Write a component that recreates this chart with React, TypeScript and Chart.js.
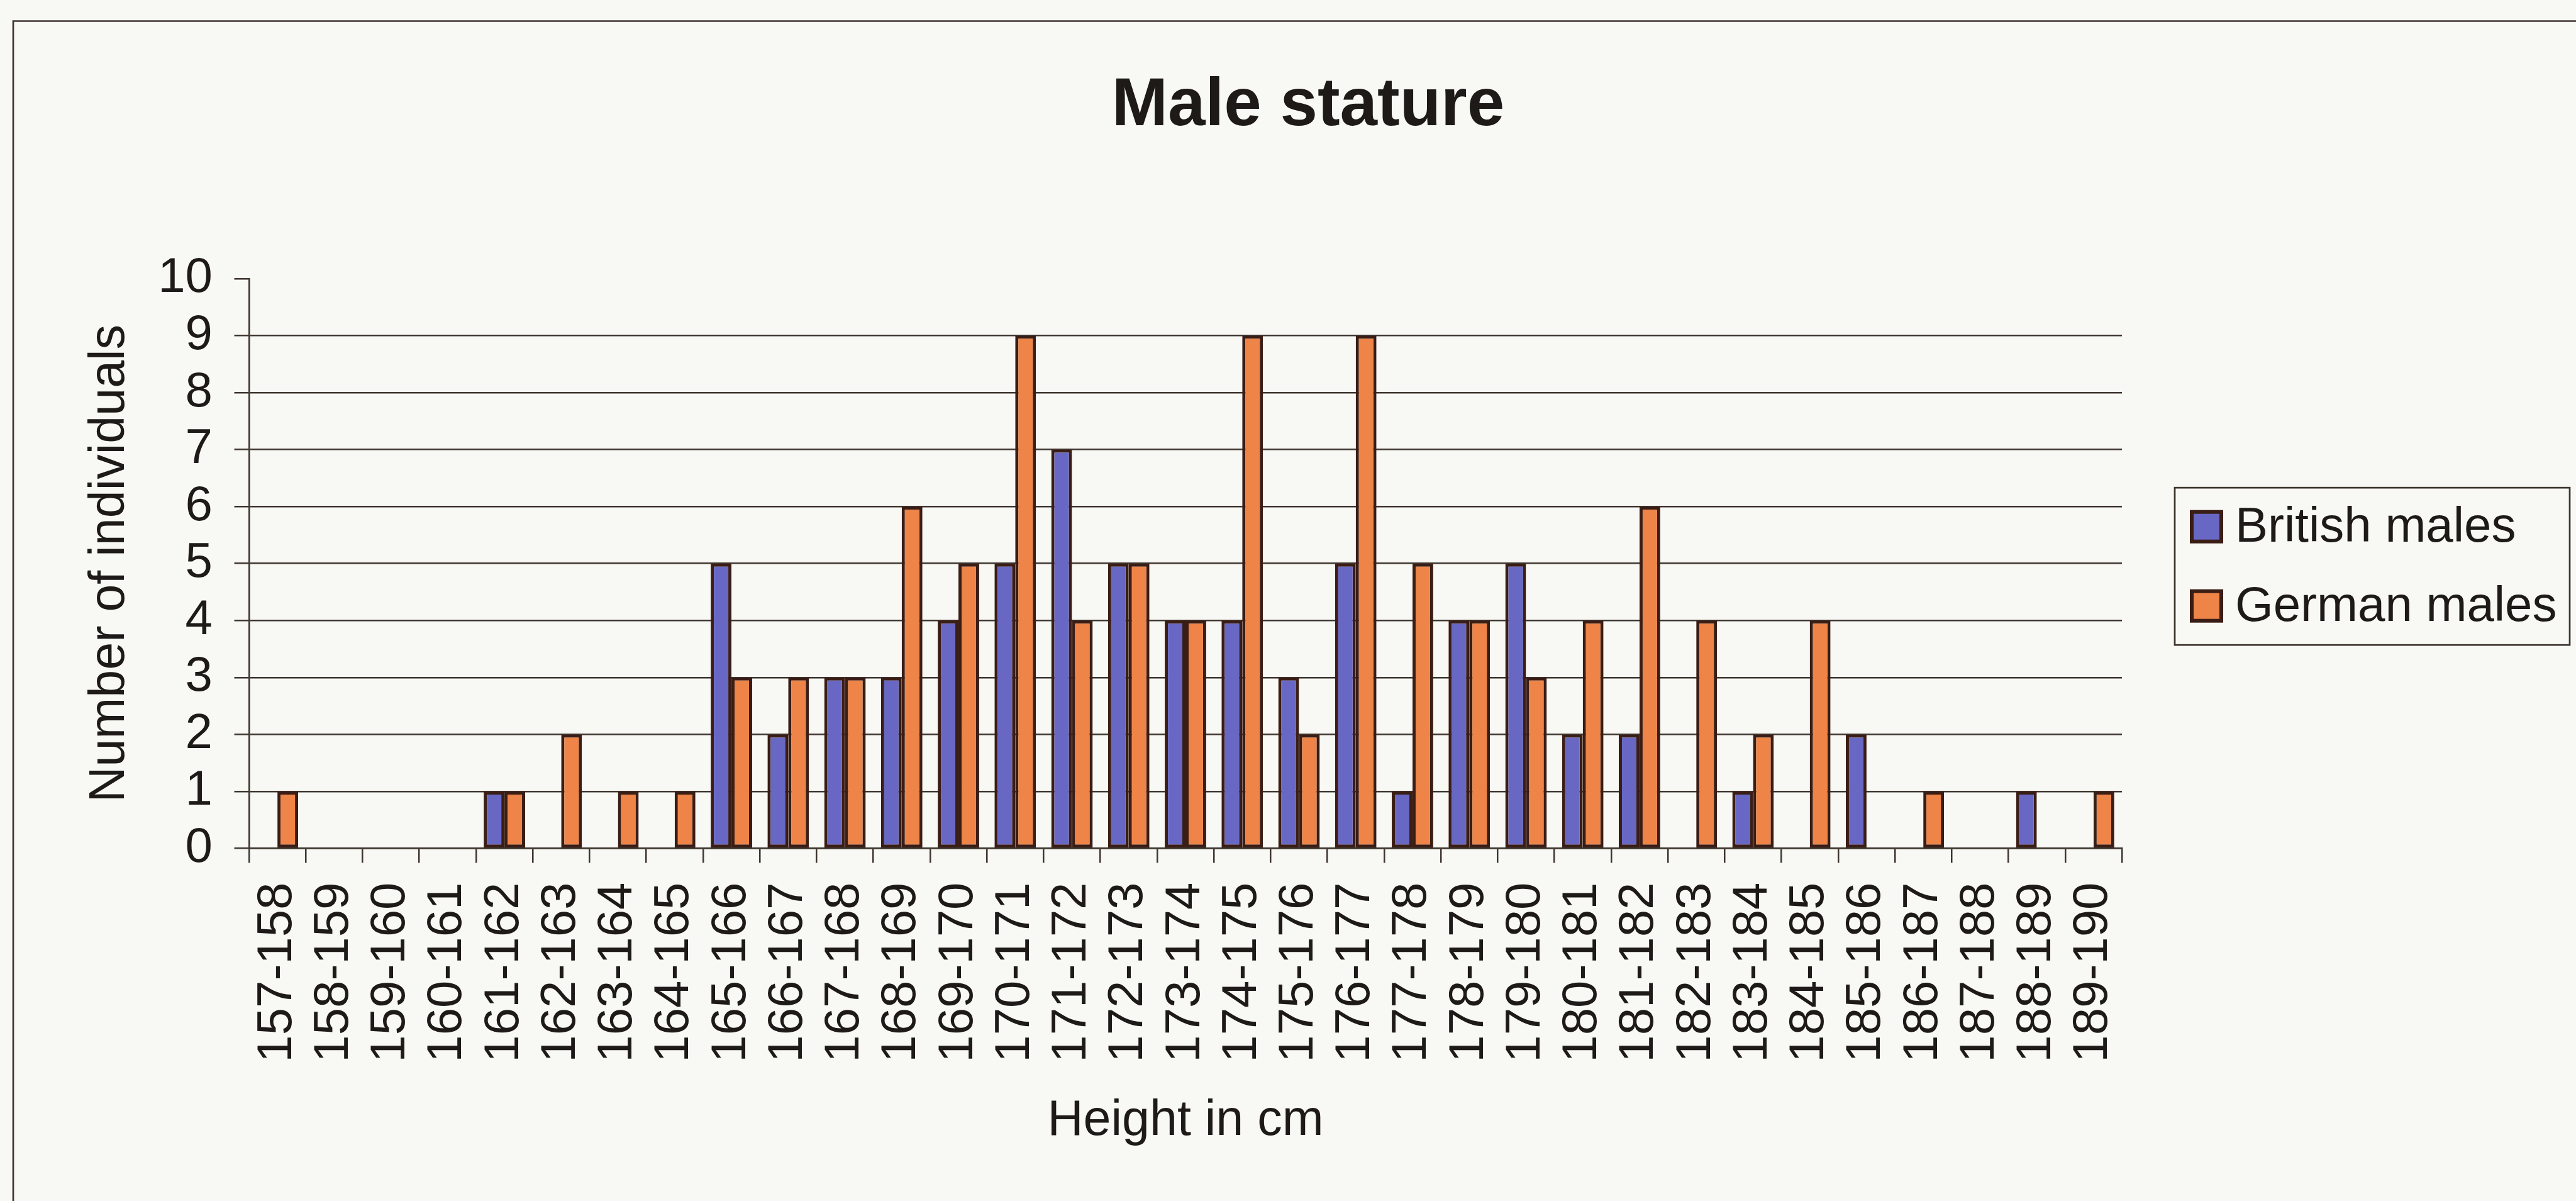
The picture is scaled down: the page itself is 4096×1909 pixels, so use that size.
import React, { useEffect, useRef } from "react";
import { Chart, registerables } from "chart.js";

Chart.register(...registerables);

// ---- data ----
const categories = [
  "157-158", "158-159", "159-160", "160-161", "161-162", "162-163", "163-164",
  "164-165", "165-166", "166-167", "167-168", "168-169", "169-170", "170-171",
  "171-172", "172-173", "173-174", "174-175", "175-176", "176-177", "177-178",
  "178-179", "179-180", "180-181", "181-182", "182-183", "183-184", "184-185",
  "185-186", "186-187", "187-188", "188-189", "189-190",
];
const britishMales = [
  0, 0, 0, 0, 1, 0, 0, 0, 5, 2, 3, 3, 4, 5, 7, 5, 4, 4, 3, 5, 1, 4, 5, 2, 2, 0, 1, 0, 2, 0, 0, 1, 0,
];
const germanMales = [
  1, 0, 0, 0, 1, 2, 1, 1, 3, 3, 3, 6, 5, 9, 4, 5, 4, 9, 2, 9, 5, 4, 3, 4, 6, 4, 2, 4, 0, 1, 0, 0, 1,
];
const seriesLabels = ["British males", "German males"];
const chartTitle = "Male stature";
const xAxisTitle = "Height in cm";
const yAxisTitle = "Number of individuals";
const yMin = 0;
const yMax = 10;
const yStep = 1;

// ---- style ----
const W = 4096;
const H = 1909;
const FONT = "'Liberation Sans', Arial, Helvetica, sans-serif";
const INK = "#1d1a18";
const LINE = "#3f3630";
const BG = "#f8f8f4";
const BLUE = "#6868c4";
const ORANGE = "#ee8447";
const EDGE = "#3a1d15";

const framePlugin = {
  id: "frame",
  beforeDraw(chart: any) {
    const { ctx, width, height } = chart;
    ctx.save();
    ctx.fillStyle = BG;
    ctx.fillRect(0, 0, width, height);
    ctx.strokeStyle = LINE;
    ctx.lineWidth = 2.7;
    ctx.beginPath();
    ctx.moveTo(21, height);
    ctx.lineTo(21, 33.5);
    ctx.lineTo(width, 33.5);
    ctx.stroke();
    ctx.restore();
  },
};

const boxLegendPlugin = {
  id: "boxLegend",
  afterDraw(chart: any) {
    const { ctx, chartArea } = chart;
    const left = chartArea.right + 84;
    const width = 628;
    const midY = (chartArea.top + chartArea.bottom) / 2 + 4.5;
    const height = 250;
    const top = midY - height / 2;
    ctx.save();
    ctx.strokeStyle = LINE;
    ctx.lineWidth = 2.7;
    ctx.strokeRect(left, top, width, height);
    chart.data.datasets.forEach((ds: any, i: number) => {
      const cy = midY - 63 + i * 126;
      const s = 53;
      const sx = left + 24;
      const sy = cy - s / 2;
      ctx.fillStyle = EDGE;
      ctx.fillRect(sx, sy, s, s);
      ctx.fillStyle = ds.backgroundColor;
      ctx.fillRect(sx + 6, sy + 6, s - 12, s - 12);
      ctx.fillStyle = INK;
      ctx.font = `78px ${FONT}`;
      ctx.textBaseline = "middle";
      ctx.textAlign = "left";
      ctx.fillText(ds.label, left + 96, cy + 2);
    });
    ctx.restore();
  },
};

export default function App() {
  const canvasRef = useRef<HTMLCanvasElement | null>(null);

  useEffect(() => {
    const canvas = canvasRef.current;
    if (!canvas) return;
    const chart = new Chart(canvas, {
      type: "bar",
      data: {
        labels: categories,
        datasets: [
          {
            label: seriesLabels[0],
            data: britishMales,
            backgroundColor: BLUE,
            borderColor: EDGE,
            borderWidth: 5,
            borderSkipped: false,
            categoryPercentage: 0.73,
            barPercentage: 1.0,
          },
          {
            label: seriesLabels[1],
            data: germanMales,
            backgroundColor: ORANGE,
            borderColor: EDGE,
            borderWidth: 5,
            borderSkipped: false,
            categoryPercentage: 0.73,
            barPercentage: 1.0,
          },
        ],
      },
      options: {
        responsive: false,
        animation: false,
        devicePixelRatio: 1,
        layout: { padding: { left: 64, right: 0, top: 0, bottom: 0 } },
        plugins: {
          legend: { display: false },
          tooltip: { enabled: false },
          title: {
            display: true,
            text: chartTitle,
            color: INK,
            font: { family: FONT, size: 107, weight: "bold" },
            padding: { top: 105, bottom: 209.5 },
          },
        },
        scales: {
          x: {
            type: "category",
            position: "bottom",
            offset: true,
            afterFit(scale: any) {
              scale.height = 560.5;
            },
            grid: {
              display: true,
              offset: true,
              drawOnChartArea: false,
              drawTicks: true,
              tickLength: 23,
              tickColor: LINE,
              lineWidth: 2.5,
              color: LINE,
            },
            border: { display: true, color: LINE, width: 2.7 },
            ticks: {
              autoSkip: false,
              maxRotation: 90,
              minRotation: 90,
              padding: 31,
              color: INK,
              font: { family: FONT, size: 78 },
            },
            title: {
              display: true,
              text: xAxisTitle,
              color: INK,
              font: { family: FONT, size: 79 },
              padding: { top: 0, bottom: 79.6 },
            },
          },
          y: {
            type: "linear",
            position: "left",
            min: yMin,
            max: yMax,
            afterFit(scale: any) {
              scale.width = 332;
            },
            grid: {
              display: true,
              drawTicks: true,
              tickLength: 23.5,
              tickColor: LINE,
              lineWidth: 2.5,
              color: (ctx: any) =>
                ctx.tick && ctx.tick.value === yMax ? "rgba(0,0,0,0)" : LINE,
            },
            border: { display: true, color: LINE, width: 2.7 },
            ticks: {
              stepSize: yStep,
              autoSkip: false,
              maxTicksLimit: 20,
              padding: 34.5,
              color: INK,
              font: { family: FONT, size: 78, lineHeight: 0.9 },
            },
            title: {
              display: true,
              text: yAxisTitle,
              color: INK,
              font: { family: FONT, size: 79 },
              padding: { top: 63.6, bottom: 0 },
            },
          },
          legendSpace: {
            type: "linear",
            position: "right",
            display: true,
            afterFit(scale: any) {
              scale.width = 722;
            },
            grid: { display: false },
            border: { display: false },
            ticks: { display: false },
          },
        },
      },
      plugins: [framePlugin, boxLegendPlugin],
    } as any);
    return () => chart.destroy();
  }, []);

  return (
    <div
      style={{
        position: "fixed",
        left: 0,
        top: 0,
        width: W,
        height: H,
        overflow: "hidden",
        background: BG,
      }}
    >
      <canvas ref={canvasRef} width={W} height={H} style={{ display: "block" }} />
    </div>
  );
}
